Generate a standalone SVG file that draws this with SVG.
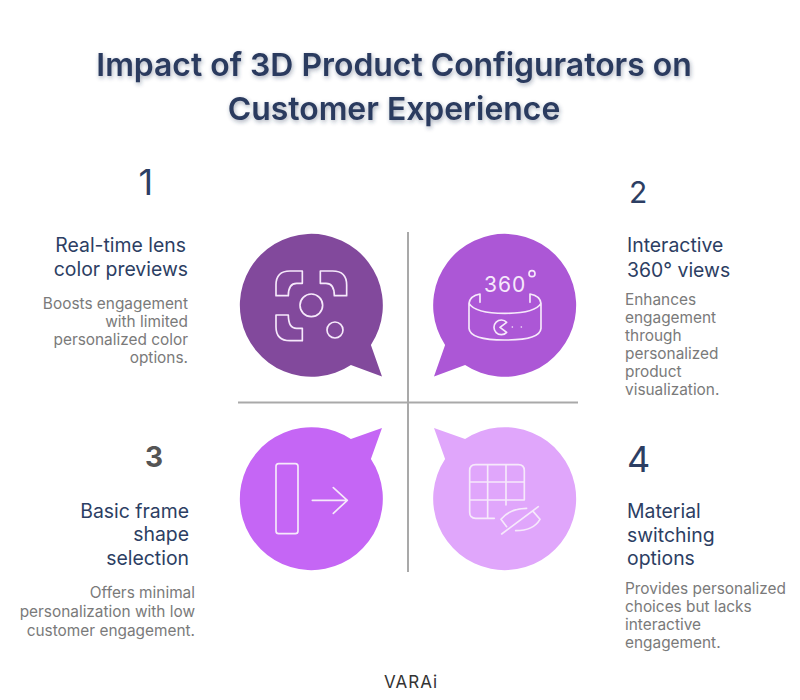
<svg xmlns="http://www.w3.org/2000/svg" width="800" height="700" viewBox="0 0 800 700">
<style>
text{font-family:"Inter","Noto Sans","Liberation Sans",sans-serif}
.title{font-size:31.900px;font-weight:600;fill:#2b3a5e;text-anchor:middle;filter:url(#sh)}
.num{font-size:36px;fill:#2c3e63}
.head{font-size:19.400px;fill:#2c3e63}
.body{font-size:15.400px;fill:#7a7a7a}
.e{text-anchor:end}
.ic{fill:none;stroke:#f6e9fb;stroke-width:5;stroke-linecap:round;stroke-linejoin:round}
.rule{stroke:#a9a9a9;stroke-width:2}
</style>
<defs><filter id="sh" x="-5%" y="-20%" width="110%" height="150%"><feDropShadow dx="1" dy="2" stdDeviation="2" flood-color="#27365a" flood-opacity=".4"/></filter></defs>
<rect width="800" height="700" fill="#fff"/>
<g id="title"><text class="title" x="394" y="75.500">Impact of 3D Product Configurators on</text><text class="title" x="394" y="120">Customer Experience</text></g>
<g id="connectors"><line class="rule" x1="408" y1="232" x2="408" y2="572"/><line class="rule" x1="238" y1="402.500" x2="578" y2="402.500"/></g>
<g id="node1">
<path fill="#82499c" d="M370.900 344.900L382 376.500L350.900 364.900A71.500 71.500 0 1 1 370.900 344.900Z"/>
<g class="ic" transform="translate(230 225) scale(.3333)"><path d="M138 212V180Q138 138 180 138H217V175H200Q175 175 175 212Z"/><path d="M350 212V180Q350 138 308 138H271V175H288Q313 175 313 212Z"/><path d="M138 270V305Q138 347 180 347H217V310H200Q175 310 175 270Z"/><circle cx="244" cy="241" r="34"/><circle cx="315" cy="315" r="24"/></g>
<text class="num" x="138.500" y="195">1</text>
<text class="head e" x="186" y="252">Real-time lens</text><text class="head e" x="188" y="276">color previews</text>
<text class="body e" x="188" y="309">Boosts engagement</text><text class="body e" x="188" y="327">with limited</text><text class="body e" x="188" y="345">personalized color</text><text class="body e" x="188" y="363">options.</text>
</g>
<g id="node2">
<path fill="#ac57d6" d="M445.100 344.900L434 376.500L465.100 364.900A71.500 71.500 0 1 0 445.100 344.900Z"/>
<g class="ic" transform="translate(405 225) scale(.3333)"><path d="M225 207Q195 212 192 235V310Q195 345 300 345Q405 345 408 310V235Q405 212 375 207M375 207V232M225 207V232M192 235Q210 265 300 265Q390 265 408 235"/><path d="M305 292A22 22 0 1 0 305 322L285 307Z"/><path d="M322 306h.1M349 306h.1"/><circle cx="381" cy="146" r="9"/></g>
<text x="484" y="292" font-size="21" fill="#f6e9fb" letter-spacing="1">360</text>
<text class="num" x="629" y="203" style="font-size:30px">2</text>
<text class="head" x="627" y="252">Interactive</text><text class="head" x="627" y="277">360° views</text>
<text class="body" x="625" y="305">Enhances</text><text class="body" x="625" y="323">engagement</text><text class="body" x="625" y="341">through</text><text class="body" x="625" y="359">personalized</text><text class="body" x="625" y="377">product</text><text class="body" x="625" y="395">visualization.</text>
</g>
<g id="node3">
<path fill="#c566f5" d="M370.900 459.100L382 428L350.900 439.100A71.500 71.500 0 1 0 370.900 459.100Z"/>
<g class="ic" transform="translate(230 400) scale(.3333)"><rect x="138" y="191" width="66" height="210" rx="8"/><path d="M247 301H352M310 263L352 301L310 340"/></g>
<text x="145" y="467" font-size="28" font-weight="700" fill="#555">3</text>
<text class="head e" x="189" y="518">Basic frame</text><text class="head e" x="189" y="541">shape</text><text class="head e" x="189" y="565">selection</text>
<text class="body e" x="195" y="598">Offers minimal</text><text class="body e" x="195" y="617">personalization with low</text><text class="body e" x="195" y="636">customer engagement.</text>
</g>
<g id="node4">
<path fill="#e0a6fb" d="M445.100 459.100L434 428L465.100 439.100A71.500 71.500 0 1 1 445.100 459.100Z"/>
<g class="ic" transform="translate(405 400) scale(.3333)"><path d="M268 355H212Q194 355 194 337V212Q194 194 212 194H340Q358 194 358 212V300H194M194 246H358M248 194V355M303 194V315"/><path d="M290 402L400 320M288 358Q315 325 365 325M405 358Q385 392 332 392M288 358L305 380M385 335L405 358"/></g>
<text class="num" x="627" y="472">4</text>
<text class="head" x="627" y="518">Material</text><text class="head" x="627" y="542">switching</text><text class="head" x="627" y="565">options</text>
<text class="body" x="625" y="594">Provides personalized</text><text class="body" x="625" y="612">choices but lacks</text><text class="body" x="625" y="630">interactive</text><text class="body" x="625" y="648">engagement.</text>
</g>
<g id="logo"><text x="384" y="688" font-size="17" fill="#333" letter-spacing="1">VARAi</text></g>
</svg>
